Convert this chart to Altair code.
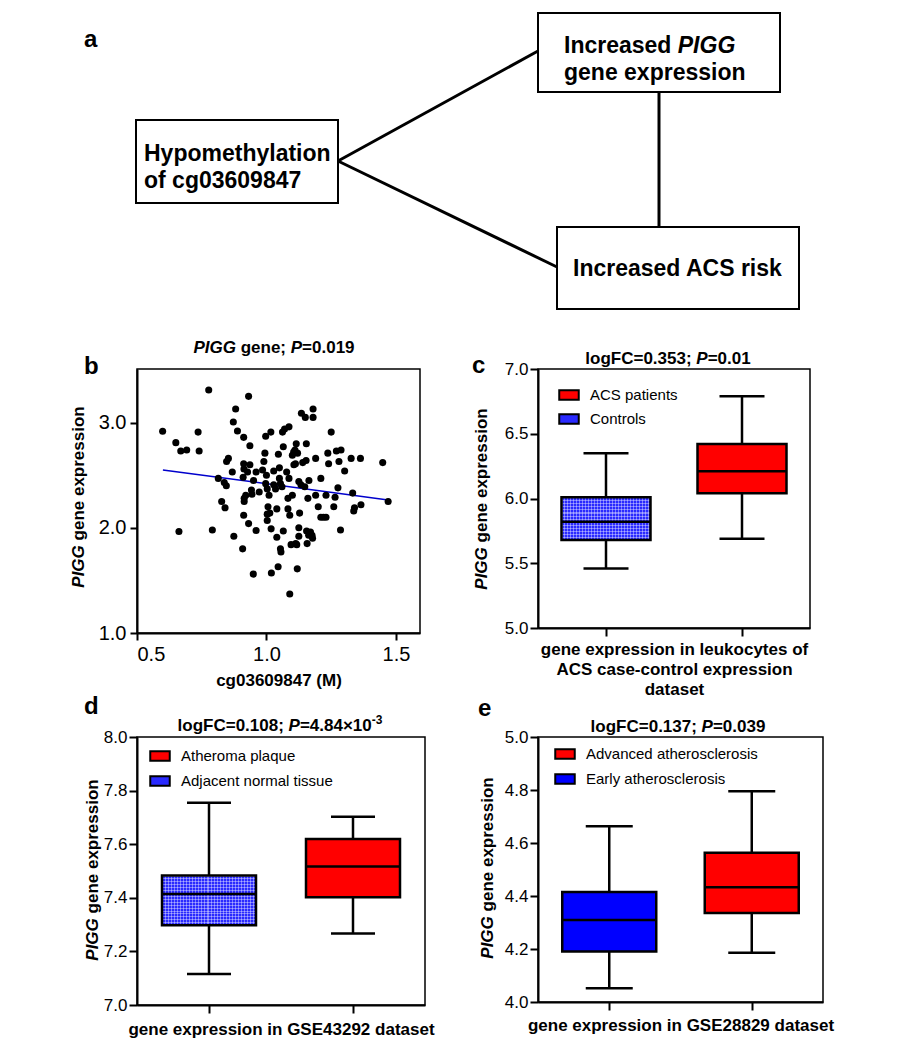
import altair as alt
import pandas as pd

FONT = "Liberation Sans"

# ---------------- panel b : scatter ----------------
b_meth = [0.599, 0.777, 0.931, 0.650, 0.669, 0.692, 0.736, 0.740, 0.881, 0.872, 0.888, 0.912, 0.936,
          0.662, 0.791, 0.874, 0.908, 0.949, 0.960, 0.931, 0.912, 1.019, 1.045, 1.090, 1.119, 0.814,
          0.827, 0.840, 0.837, 0.845, 0.846, 0.853, 0.868, 0.912, 0.913, 0.910, 0.914, 0.914, 0.920,
          0.927, 0.936, 0.942, 0.944, 0.950, 0.960, 0.972, 0.985, 0.990, 0.994, 0.997, 1.017, 1.000,
          0.997, 1.003, 1.010, 1.006, 1.003, 1.013, 1.018, 1.028, 1.028, 1.035, 1.040, 1.046, 1.050,
          1.050, 1.054, 1.060, 1.040, 1.054, 1.056, 1.065, 1.062, 1.070, 1.087, 1.065, 1.078, 1.087,
          1.083, 1.083, 1.090, 1.095, 1.100, 1.100, 1.106, 1.110, 1.115, 1.112, 1.120, 1.135, 1.117,
          1.113, 1.125, 1.125, 1.128, 1.125, 1.133, 1.150, 1.154, 1.153, 1.148, 1.160, 1.157, 1.155,
          1.164, 1.163, 1.170, 1.176, 1.178, 1.180, 1.180, 1.190, 1.190, 1.200, 1.210, 1.210, 1.220,
          1.230, 1.237, 1.240, 1.250, 1.260, 1.265, 1.270, 1.276, 1.280, 1.286, 1.288, 1.302, 1.327,
          1.333, 1.337, 1.340, 1.363, 1.365, 1.449, 1.470, 1.230, 1.003, 1.140, 1.105]
b_expr = [2.918, 3.310, 3.250, 2.810, 2.730, 2.740, 2.910, 2.730, 3.130, 3.006, 2.920, 2.860, 2.780,
          1.965, 1.980, 1.920, 1.800, 1.560, 1.975, 2.040, 2.120, 1.570, 1.630, 1.370, 1.610, 2.470,
          2.250, 2.190, 2.430, 2.400, 2.630, 2.660, 2.530, 2.610, 2.560, 2.480, 2.280, 2.250, 2.310,
          2.530, 2.600, 2.360, 2.320, 2.450, 2.530, 2.340, 2.550, 2.630, 2.710, 2.870, 2.910, 2.500,
          2.420, 2.370, 2.310, 2.200, 2.130, 2.140, 1.990, 2.540, 2.410, 2.370, 2.180, 2.700, 2.570,
          2.470, 2.420, 2.390, 1.910, 1.800, 1.770, 1.970, 2.910, 2.940, 2.960, 2.770, 2.530, 2.470,
          2.280, 2.180, 2.120, 1.840, 2.310, 2.690, 2.600, 2.740, 2.800, 2.610, 2.710, 3.090, 1.840,
          1.850, 1.920, 2.000, 2.140, 2.440, 2.410, 3.050, 2.800, 2.640, 2.390, 2.280, 1.850, 1.970,
          2.450, 1.930, 1.960, 1.930, 1.900, 3.130, 3.050, 2.660, 2.310, 2.200, 2.470, 2.100, 2.100,
          2.310, 2.710, 2.610, 2.910, 2.200, 2.290, 2.730, 2.380, 2.630, 1.980, 2.740, 2.540, 2.660,
          2.330, 2.160, 2.190, 2.660, 2.220, 2.620, 2.250, 2.100, 2.070, 2.620, 2.720]
fit_meth = [0.60, 1.47]
fit_expr = [2.55, 2.265]
b_xticks = [0.5, 1.0, 1.5]
b_yticks = [1.0, 2.0, 3.0]

# ---------------- panel c ----------------
c_groups = ["Controls", "ACS patients"]
c_low = [5.46, 5.69]
c_q1 = [5.68, 6.04]
c_med = [5.82, 6.21]
c_q3 = [6.01, 6.42]
c_high = [6.35, 6.79]
c_yticks = [5.0, 5.5, 6.0, 6.5, 7.0]

# ---------------- panel d ----------------
d_groups = ["Adjacent normal tissue", "Atheroma plaque"]
d_low = [7.116, 7.267]
d_q1 = [7.298, 7.402]
d_med = [7.414, 7.517]
d_q3 = [7.483, 7.619]
d_high = [7.755, 7.702]
d_yticks = [7.0, 7.2, 7.4, 7.6, 7.8, 8.0]

# ---------------- panel e ----------------
e_groups = ["Early atherosclerosis", "Advanced atherosclerosis"]
e_low = [4.052, 4.186]
e_q1 = [4.191, 4.336]
e_med = [4.309, 4.433]
e_q3 = [4.415, 4.563]
e_high = [4.663, 4.795]
e_yticks = [4.0, 4.2, 4.4, 4.6, 4.8, 5.0]

# ---------------- panel a : diagram ----------------
node_x1 = [135, 537, 556]
node_x2 = [337, 779, 798]
node_y1 = [119, 12, 226]
node_y2 = [202, 91, 308]
link_x1 = [337, 337, 658]
link_y1 = [160, 160, 91]
link_x2 = [537, 556, 658]
link_y2 = [50, 266, 226]

RED = "#ff0000"
BLUE = "#0000ff"
HATCH_BLUE = "#2a2aff"

BW = {' ': 278, '.': 278, ';': 333, '=': 584, '×': 584, '-': 333, '(': 333, ')': 333,
      'a': 556, 'b': 611, 'c': 556, 'd': 611, 'e': 556, 'f': 333, 'g': 611, 'h': 611, 'i': 278,
      'j': 278, 'k': 556, 'l': 278, 'm': 889, 'n': 611, 'o': 611, 'p': 611, 'q': 611, 'r': 389,
      's': 556, 't': 333, 'u': 611, 'v': 556, 'w': 778, 'x': 556, 'y': 556, 'z': 500,
      'A': 722, 'C': 722, 'E': 667, 'F': 611, 'G': 778, 'I': 278, 'M': 833, 'P': 667, 'S': 667}


def tw(s, size):
    return sum(BW.get(ch, 556) for ch in s) * size / 1000.0


def ptxt(s, x, y, size, italic=False, angle=0, baseline="alphabetic", align="left"):
    return alt.Chart(pd.DataFrame({"t": [s]})).mark_text(
        font=FONT, fontSize=size, fontWeight="bold",
        fontStyle="italic" if italic else "normal",
        angle=angle, align=align, baseline=baseline, color="black"
    ).encode(x=alt.value(x), y=alt.value(y), text="t:N")


def rich_h(pieces, cx, y):
    total = sum(tw(s, sz) for s, it, sz, dy in pieces)
    x = cx - total / 2.0
    out = []
    for s, it, sz, dy in pieces:
        lead = len(s) - len(s.lstrip(" "))
        core = s.strip(" ")
        if core:
            out.append(ptxt(core, x + tw(" " * lead, sz), y + dy, sz, italic=it))
        x += tw(s, sz)
    return out


def rich_v(pieces, xc, cy):
    total = sum(tw(s, sz) for s, it, sz in pieces)
    yy = cy + total / 2.0
    out = []
    for s, it, sz in pieces:
        lead = len(s) - len(s.lstrip(" "))
        core = s.strip(" ")
        if core:
            out.append(ptxt(core, xc, yy - tw(" " * lead, sz), sz, italic=it, angle=270, baseline="middle"))
        yy -= tw(s, sz)
    return out


def stripes(n, horizontal):
    """white grid-line gradient used to imitate the hatched fill"""
    stops = []
    for k in range(n):
        a = k / n
        b = (k + 0.34) / n
        c = (k + 1) / n
        stops += [alt.GradientStop(offset=a, color="rgba(255,255,255,0.38)"),
                  alt.GradientStop(offset=b, color="rgba(255,255,255,0.38)"),
                  alt.GradientStop(offset=b, color="rgba(255,255,255,0)"),
                  alt.GradientStop(offset=c, color="rgba(255,255,255,0)")]
    if horizontal:
        return alt.LinearGradient(gradient="linear", stops=stops, x1=0, x2=0, y1=0, y2=1)
    return alt.LinearGradient(gradient="linear", stops=stops, x1=0, x2=1, y1=0, y2=0)


YTITLE = [("PIGG", True, 17), (" gene expression", False, 17)]
FRAME = alt.ViewBackground(stroke="black", strokeWidth=1.5)

# ================= panel a =================
AX0, AY0, AW, AH = 136, 8, 288, 256
ax = alt.Scale(domain=[AX0, AX0 + AW], nice=False, zero=False)
ay = alt.Scale(domain=[AY0, AY0 + AH], reverse=True, nice=False, zero=False)

nodes = pd.DataFrame({"x1": node_x1, "x2": node_x2, "y1": node_y1, "y2": node_y2})
links = pd.DataFrame({"x1": link_x1, "y1": link_y1, "x2": link_x2, "y2": link_y2})
anchor = pd.DataFrame({"x1": [8], "x2": [9], "y1": [8], "y2": [9]})

a_rect = alt.Chart(nodes).mark_rect(fill="white", stroke="black", strokeWidth=2).encode(
    x=alt.X("x1:Q", scale=ax, axis=None), x2="x2:Q",
    y=alt.Y("y1:Q", scale=ay, axis=None), y2="y2:Q")
a_anchor = alt.Chart(anchor).mark_rect(fill="white").encode(
    x=alt.X("x1:Q", scale=ax, axis=None), x2="x2:Q",
    y=alt.Y("y1:Q", scale=ay, axis=None), y2="y2:Q")
a_link = alt.Chart(links).mark_rule(color="black", strokeWidth=3).encode(
    x=alt.X("x1:Q", scale=ax, axis=None), x2="x2:Q",
    y=alt.Y("y1:Q", scale=ay, axis=None), y2="y2:Q")

a_txt_up = pd.DataFrame({
    "t": ["Hypomethylation", "of cg03609847", "Increased", "gene expression", "Increased ACS risk"],
    "x": [143, 143, 563, 563, 572],
    "y": [160, 187, 52, 79, 275]})
a_txt_it = pd.DataFrame({"t": ["PIGG"], "x": [563 + tw("Increased ", 23)], "y": [52]})


def a_text(df, italic):
    return alt.Chart(df).mark_text(font=FONT, fontSize=23, fontWeight="bold",
                                   fontStyle="italic" if italic else "normal",
                                   align="left", baseline="alphabetic", color="black").encode(
        x=alt.X("x:Q", scale=ax, axis=None), y=alt.Y("y:Q", scale=ay, axis=None), text="t:N")


panel_a = alt.layer(
    a_anchor, a_link, a_rect, a_text(a_txt_up, False), a_text(a_txt_it, True),
    ptxt("a", 83 - AX0, 46 - AY0, 24)
).properties(width=AW, height=AH)

# empty grid cell next to panel a
blank = alt.Chart(pd.DataFrame({"t": [0]})).mark_rect(fill="white", opacity=0).encode(
    x=alt.value(0), x2=alt.value(1), y=alt.value(20), y2=alt.value(21)).properties(width=1, height=1)

# ================= panel b =================
BW_, BH_ = 283, 264
bdf = pd.DataFrame({"m": b_meth, "expr": b_expr})
fdf = pd.DataFrame({"m": fit_meth, "expr": fit_expr})
bxs = alt.Scale(domain=[0.5, 1.593], nice=False, zero=False)
bys = alt.Scale(domain=[1.0, 3.51], nice=False, zero=False)
b_pts = alt.Chart(bdf).mark_circle(size=50, color="black", opacity=1).encode(
    x=alt.X("m:Q", scale=bxs, axis=alt.Axis(values=b_xticks, format=".1f", title="cg03609847 (M)",
                                             labelFontSize=20, tickSize=7, labelPadding=4,
                                             titlePadding=8)),
    y=alt.Y("expr:Q", scale=bys, axis=alt.Axis(values=b_yticks, format=".1f", title=None,
                                                labelFontSize=20, tickSize=7, labelPadding=4)))
b_fit = alt.Chart(fdf).mark_line(color="#0000cc", strokeWidth=1.5).encode(
    x=alt.X("m:Q", scale=bxs), y=alt.Y("expr:Q", scale=bys))

b_layers = [b_fit, b_pts, ptxt("b", -53, 5, 24)]
b_layers += rich_h([("PIGG", True, 17, 0), (" gene; ", False, 17, 0), ("P", True, 17, 0),
                    ("=0.019", False, 17, 0)], 137, -16)
b_layers += rich_v(YTITLE, -58, 128)
panel_b = alt.layer(*b_layers).properties(width=BW_, height=BH_, view=FRAME)


# ================= box panels =================
def box_panel(groups, low, q1, med, q3, high, order, colors, yvals, w, h, xtitle, tpad,
              box_w, cap_w, leg_x, leg_y, row_pad, hatch):
    df = pd.DataFrame({"group": groups, "low": low, "q1": q1, "med": med, "q3": q3, "high": high})
    xs = alt.Scale(type="point", domain=groups, padding=0.5)
    xe = alt.X("group:N", scale=xs, axis=alt.Axis(labels=False, title=xtitle, titlePadding=tpad,
                                                   tickSize=8, titleLineHeight=20))
    ys = alt.Scale(domain=[yvals[0], yvals[-1]], nice=False, zero=False)

    def ye(f):
        return alt.Y(f + ":Q", scale=ys, axis=alt.Axis(values=yvals, format=".1f", title=None,
                                                        tickSize=8, labelPadding=2))

    base = alt.Chart(df)
    whisk = base.mark_rule(color="black", strokeWidth=2.5).encode(x=xe, y=ye("low"), y2="high:Q")
    cap_lo = base.mark_tick(color="black", size=cap_w, thickness=2.5, opacity=1).encode(x=xe, y=ye("low"))
    cap_hi = base.mark_tick(color="black", size=cap_w, thickness=2.5, opacity=1).encode(x=xe, y=ye("high"))
    box = base.mark_bar(size=box_w, opacity=1).encode(
        x=xe, y=ye("q1"), y2="q3:Q",
        fill=alt.Fill("group:N", scale=alt.Scale(domain=order, range=colors),
                      legend=alt.Legend(title=None, orient="none", legendX=leg_x, legendY=leg_y,
                                        symbolType="M-1,-0.5H1V0.5H-1Z", symbolSize=380,
                                        symbolStrokeColor="black", symbolStrokeWidth=2,
                                        symbolOpacity=1, labelFont=FONT, labelFontSize=15,
                                        labelColor="black", labelOffset=10, rowPadding=row_pad,
                                        labelLimit=400, padding=0)))
    layers = [whisk, cap_lo, cap_hi, box]
    if hatch:
        hb = base.transform_filter(alt.datum.group == groups[0])
        box_h = (q3[0] - q1[0]) / (yvals[-1] - yvals[0]) * h
        layers.append(hb.mark_bar(size=box_w, fill=stripes(int(round(box_w / 3.0)), False)).encode(
            x=xe, y=ye("q1"), y2="q3:Q"))
        layers.append(hb.mark_bar(size=box_w, fill=stripes(int(round(box_h / 3.0)), True)).encode(
            x=xe, y=ye("q1"), y2="q3:Q"))
    outline = base.mark_bar(size=box_w, fill="transparent", stroke="black", strokeWidth=2.5).encode(
        x=xe, y=ye("q1"), y2="q3:Q")
    medt = base.mark_tick(color="black", size=box_w, thickness=2.5, opacity=1).encode(x=xe, y=ye("med"))
    return layers + [outline, medt]


# ---- c
CW, CH = 272, 259
c_layers = box_panel(c_groups, c_low, c_q1, c_med, c_q3, c_high,
                     ["ACS patients", "Controls"], [RED, HATCH_BLUE], c_yticks, CW, CH,
                     ["gene expression in leukocytes of", "ACS case-control expression", "dataset"],
                     4, 89, 45, 20, 15, 4, True)
c_layers.append(ptxt("c", -66, 4, 24))
c_layers += rich_h([("logFC=0.353; ", False, 17, 0), ("P", True, 17, 0), ("=0.01", False, 17, 0)], 130, -5)
c_layers += rich_v(YTITLE, -56, 130)
panel_c = alt.layer(*c_layers).properties(width=CW, height=CH, view=FRAME)

# ---- d
DW, DH = 288, 268
d_layers = box_panel(d_groups, d_low, d_q1, d_med, d_q3, d_high,
                     ["Atheroma plaque", "Adjacent normal tissue"], [RED, HATCH_BLUE], d_yticks, DW, DH,
                     "gene expression in GSE43292 dataset", 7, 94, 44, 12, 8, 5, True)
d_layers.append(ptxt("d", -53, -23, 24))
d_layers += rich_h([("logFC=0.108; ", False, 17, 0), ("P", True, 17, 0), ("=4.84×10", False, 17, 0),
                    ("-3", False, 12, -7)], 143, -6)
d_layers += rich_v(YTITLE, -44, 133)
panel_d = alt.layer(*d_layers).properties(width=DW, height=DH, view=FRAME)

# ---- e
EW, EH = 285, 265
e_layers = box_panel(e_groups, e_low, e_q1, e_med, e_q3, e_high,
                     ["Advanced atherosclerosis", "Early atherosclerosis"], [RED, BLUE], e_yticks, EW, EH,
                     "gene expression in GSE28829 dataset", 6, 94, 47, 16, 6, 5, False)
e_layers.append(ptxt("e", -60, -21, 24))
e_layers += rich_h([("logFC=0.137; ", False, 17, 0), ("P", True, 17, 0), ("=0.039", False, 17, 0)], 140, -5)
e_layers += rich_v(YTITLE, -50, 131)
panel_e = alt.layer(*e_layers).properties(width=EW, height=EH, view=FRAME)

chart = alt.concat(panel_a, blank, panel_b, panel_c, panel_d, panel_e, columns=2,
                   spacing={"row": 104, "column": 113}, bounds="flush").resolve_scale(
    fill="independent", x="independent", y="independent"
).resolve_legend(fill="independent").properties(
    padding=0, background="white"
).configure_view(stroke="transparent").configure_axis(
    domainColor="black", domainWidth=2, tickColor="black", tickWidth=2,
    labelFont=FONT, labelFontSize=17, labelColor="black",
    titleFont=FONT, titleFontSize=17, titleFontWeight="bold", titleColor="black", grid=False
)

chart.save("out.html", embed_options={"renderer": "svg", "actions": False})
